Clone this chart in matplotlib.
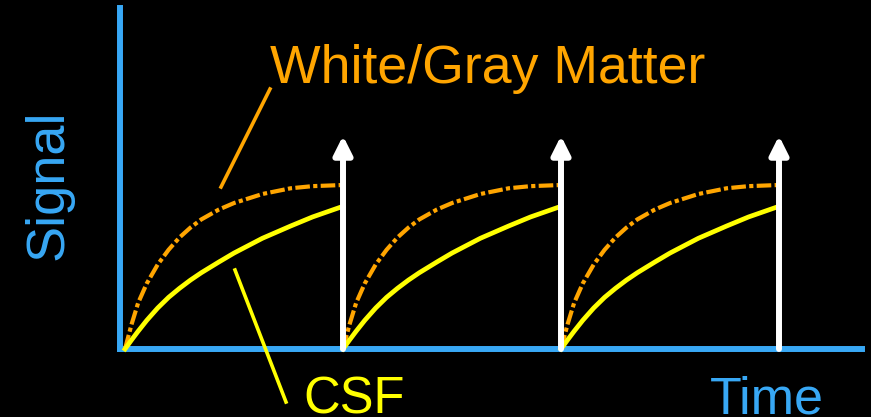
import matplotlib
matplotlib.use("Agg")
import matplotlib.pyplot as plt
import numpy as np

# ---- data (one recovery cycle, repeated after each excitation) ----
cycle_time = [0.0, 0.03, 0.06, 0.10, 0.15, 0.20, 0.25, 0.30, 0.35, 0.43, 0.50, 0.63, 0.76, 0.86, 1.0]
wm_signal  = [0.0, 0.15, 0.28, 0.40, 0.515, 0.605, 0.68, 0.74, 0.79, 0.85, 0.89, 0.945, 0.98, 0.993, 1.00]
csf_signal = [0.0, 0.055, 0.108, 0.175, 0.25, 0.315, 0.37, 0.42, 0.465, 0.53, 0.585, 0.675, 0.75, 0.805, 0.87]
cycle_starts = [0, 1, 2]
pulse_times = [1, 2, 3]
pulse_height = 1.30

label_wm = "White/Gray Matter"
label_csf = "CSF"
label_x = "Time"
label_y = "Signal"

BLUE = "#38A8F5"
ORANGE = "#FFA500"
YELLOW = "#FFFF00"

W, H = 871, 417
fig = plt.figure(figsize=(W / 100, H / 100), dpi=100, facecolor="black")
ax = fig.add_axes([120 / W, (H - 349) / H, (862 - 120) / W, (349 - 8) / H])
ax.set_facecolor("black")
ax.set_xlim((120 - 125) / 218, (862 - 125) / 218)
ax.set_ylim(0, (349 - 8) / 164)
for s in ["top", "right"]:
    ax.spines[s].set_visible(False)
for s in ["left", "bottom"]:
    ax.spines[s].set_color(BLUE)
    ax.spines[s].set_linewidth(4.3)
    ax.spines[s].set_capstyle("projecting")
ax.set_xticks([])
ax.set_yticks([])

ct = np.array(cycle_time)
for c in cycle_starts:
    ax.plot(ct + c, wm_signal, color=ORANGE, lw=3.0,
            linestyle=(0, (3.5, 0.8, 1.0, 0.8)), zorder=3, clip_on=False)
    ax.plot(ct + c, csf_signal, color=YELLOW, lw=3.4, zorder=3, clip_on=False)

for p in pulse_times:
    ax.annotate("", xy=(p, pulse_height), xytext=(p, 0),
                arrowprops=dict(arrowstyle="-|>,head_length=1.1,head_width=0.55",
                                mutation_scale=10, color="white", lw=4.3,
                                shrinkA=0, shrinkB=0),
                zorder=5, annotation_clip=False)

font = "Liberation Sans"
fig.text(270 / W, 1 - 83 / H, label_wm, color=ORANGE, fontsize=38.6,
         family=font, ha="left", va="baseline")
fig.text(303 / W, 1 - 413 / H, label_csf, color=YELLOW, fontsize=36.5,
         family=font, ha="left", va="baseline")
fig.text(710 / W, 1 - 413 / H, label_x, color=BLUE, fontsize=37.5,
         family=font, ha="left", va="baseline")
fig.text(62 / W, 1 - 260 / H, label_y, color=BLUE, fontsize=39,
         family=font, ha="left", va="baseline", rotation=90,
         rotation_mode="anchor")

# pointer lines from labels to curves
fig.add_artist(plt.Line2D([221 / W, 270 / W], [1 - 187 / H, 1 - 89 / H],
                          color=ORANGE, lw=2.6))
fig.add_artist(plt.Line2D([235 / W, 286 / W], [1 - 270 / H, 1 - 402 / H],
                          color=YELLOW, lw=2.6))

fig.savefig("out.png", dpi=100, facecolor="black")
